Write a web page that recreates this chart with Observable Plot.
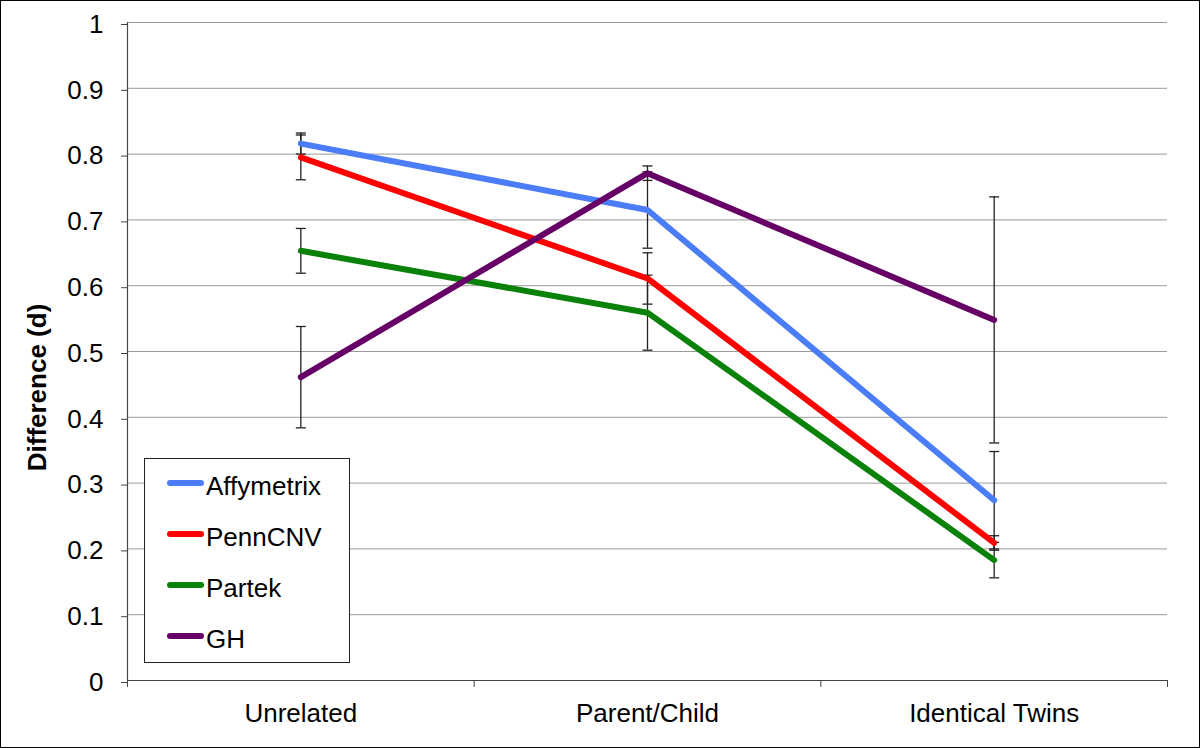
<!DOCTYPE html>
<html>
<head>
<meta charset="utf-8">
<script src="https://cdn.jsdelivr.net/npm/d3@7"></script>
<script src="https://cdn.jsdelivr.net/npm/@observablehq/plot@0.6"></script>
<style>
  html, body { margin: 0; padding: 0; background: #fff; }
  #wrap { position: relative; width: 1200px; height: 748px; font-family: "Liberation Sans", Arial, sans-serif; }
  #frame { position: absolute; left: 0; top: 0; width: 1200px; height: 748px; box-sizing: border-box; border: 1px solid #000; pointer-events: none; }
  #legend { position: absolute; left: 144px; top: 458px; width: 206px; height: 205px; box-sizing: border-box; border: 1px solid #222; background: #fff; }
  .item { position: absolute; left: 22px; height: 30px; display: flex; align-items: center; white-space: nowrap; }
  .swatch { width: 37px; height: 6px; border-radius: 3px; }
  .lab { font-size: 26px; color: #000; margin-left: 2px; position: relative; top: 3px; }
</style>
</head>
<body>
<div id="wrap"></div>
<script>
const categories = ["Unrelated", "Parent/Child", "Identical Twins"];
const seriesNames = ["Affymetrix", "PennCNV", "Partek", "GH"];
const colors = ["#4a7df7", "#ff0000", "#0a820a", "#660066"];

const affymetrix = [0.816, 0.715, 0.274];
const affymetrixErr = [0.016, 0.058, 0.074];
const penncnv = [0.795, 0.611, 0.209];
const penncnvErr = [0.034, 0.039, 0.011];
const partek = [0.653, 0.559, 0.183];
const partekErr = [0.034, 0.057, 0.027];
const gh = [0.461, 0.771, 0.548];
const ghErr = [0.077, 0.011, 0.187];

const yTicks = [0, 0.1, 0.2, 0.3, 0.4, 0.5, 0.6, 0.7, 0.8, 0.9, 1];
const yLabel = "Difference (d)";

const values = [affymetrix, penncnv, partek, gh];
const errors = [affymetrixErr, penncnvErr, partekErr, ghErr];

const rows = [];
seriesNames.forEach((s, si) => {
  categories.forEach((c, ci) => {
    const v = values[si][ci], e = errors[si][ci];
    rows.push({series: s, xi: ci, value: v, lo: v - e, hi: v + e});
  });
});
const caps = rows.flatMap(r => [{xi: r.xi, y: r.lo}, {xi: r.xi, y: r.hi}]);

const capSymbol = {
  draw(context, size) {
    const r = Math.sqrt(size / Math.PI);
    context.moveTo(-r, 0);
    context.lineTo(r, 0);
  }
};

const chart = Plot.plot({
  width: 1200,
  height: 748,
  marginLeft: 127,
  marginRight: 33,
  marginTop: 22,
  marginBottom: 68,
  x: {type: "linear", domain: [-0.5, categories.length - 0.5]},
  y: {domain: [0, 1]},
  color: {domain: seriesNames, range: colors},
  style: {fontFamily: "'Liberation Sans', Arial, sans-serif", fontSize: "26px", color: "#000", background: "transparent", overflow: "visible"},
  marks: [
    Plot.ruleY(yTicks.filter(d => d > 0), {stroke: "#9a9a9a", strokeWidth: 1}),
    Plot.ruleX([-0.5], {stroke: "#444", strokeWidth: 1.2}),
    Plot.ruleY([0], {stroke: "#444", strokeWidth: 1.2}),
    Plot.axisY(yTicks, {tickSize: 6, tickPadding: 18, tickFormat: d => String(+d.toFixed(1)), label: null, stroke: "#444", fill: "#000", fontSize: 26, dy: 2}),
    Plot.axisX([0, 1, 2], {tickSize: 0, tickPadding: 23, tickFormat: i => categories[i], label: null, fill: "#000", fontSize: 26}),
    Plot.axisX([-0.5, 0.5, 1.5, 2.5], {tickSize: 7, tickFormat: () => "", label: null, stroke: "#444"}),
    Plot.text([yLabel], {frameAnchor: "left", dx: -90, dy: 36, rotate: -90, textAnchor: "middle", fontWeight: "bold", fontSize: 26, fill: "#000"}),
    Plot.ruleX(rows, {x: "xi", y1: "lo", y2: "hi", stroke: "#222", strokeWidth: 1.3}),
    Plot.dot(caps, {x: "xi", y: "y", symbol: capSymbol, r: 5, stroke: "#222", strokeWidth: 1.3, fill: "none"}),
    Plot.line(rows, {x: "xi", y: "value", z: "series", stroke: "series", strokeWidth: 6, strokeLinecap: "round", strokeLinejoin: "round"})
  ]
});

const wrap = document.getElementById("wrap");
wrap.appendChild(chart);

const legend = document.createElement("div");
legend.id = "legend";
seriesNames.forEach((s, i) => {
  const item = document.createElement("div");
  item.className = "item";
  item.style.top = (9 + i * 51) + "px";
  const sw = document.createElement("div");
  sw.className = "swatch";
  sw.style.background = colors[i];
  const lab = document.createElement("span");
  lab.className = "lab";
  lab.textContent = s;
  item.appendChild(sw);
  item.appendChild(lab);
  legend.appendChild(item);
});
wrap.appendChild(legend);

const frame = document.createElement("div");
frame.id = "frame";
wrap.appendChild(frame);
</script>
</body>
</html>
